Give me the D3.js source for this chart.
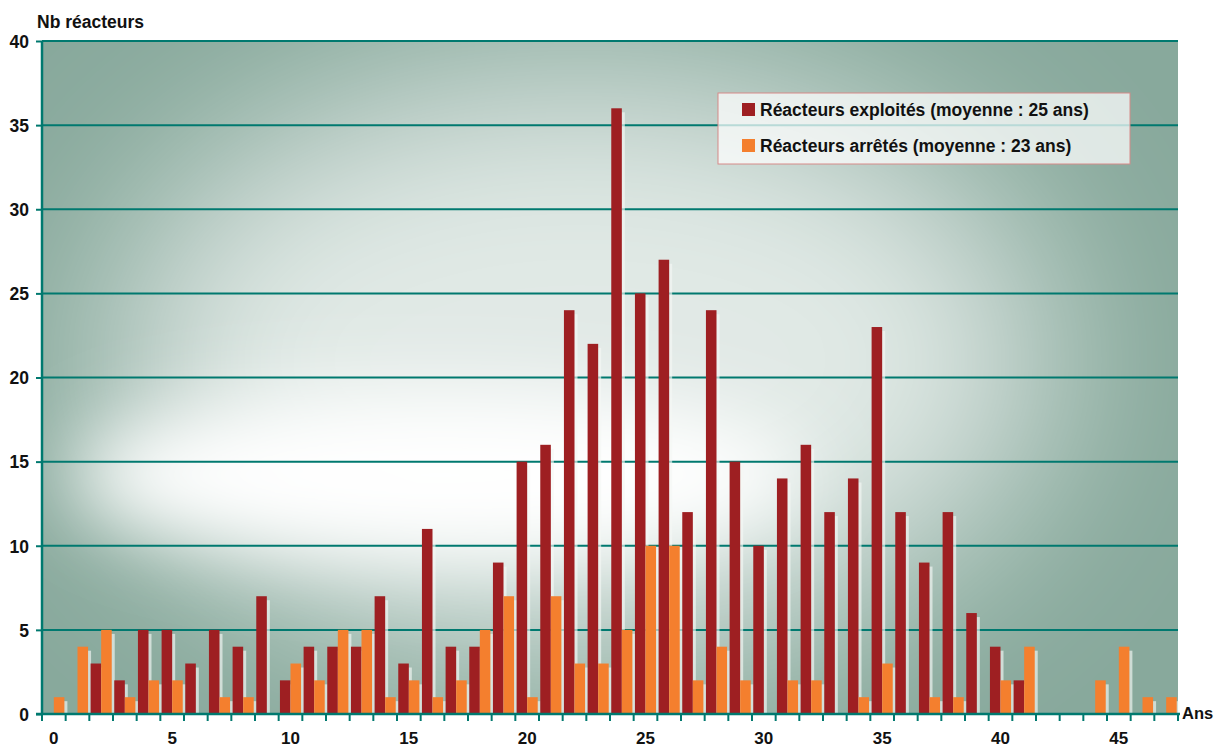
<!DOCTYPE html>
<html lang="fr">
<head>
<meta charset="UTF-8">
<title>Âge des réacteurs</title>
<script src="https://d3js.org/d3.v7.min.js"></script>
<style>
  body { margin: 0; background: #fff; }
  svg text { font-family: "Liberation Sans", Arial, sans-serif; font-weight: bold; fill: #111; }
</style>
</head>
<body>
<script>
// ages (years) and number of reactors per age
const ages = d3.range(0, 48);
const exploites = [0, 0, 3, 2, 5, 5, 3, 5, 4, 7, 2, 4, 4, 4, 7, 3, 11, 4, 4, 9,
                   15, 16, 24, 22, 36, 25, 27, 12, 24, 15, 10, 14, 16, 12, 14, 23, 12, 9, 12, 6,
                   4, 2, 0, 0, 0, 0, 0, 0];
const arretes   = [1, 4, 5, 1, 2, 2, 0, 1, 1, 0, 3, 2, 5, 5, 1, 2, 1, 2, 5, 7,
                   1, 7, 3, 3, 5, 10, 10, 2, 4, 2, 0, 2, 2, 0, 1, 3, 0, 1, 1, 0,
                   2, 4, 0, 0, 2, 4, 1, 1];
const yTicks = [0, 5, 10, 15, 20, 25, 30, 35, 40];
const xLabels = [0, 5, 10, 15, 20, 25, 30, 35, 40, 45];
const seriesNames = ["Réacteurs exploités (moyenne : 25 ans)", "Réacteurs arrêtés (moyenne : 23 ans)"];
const colors = ["#9e1f22", "#f47f2e"];

const W = 1215, H = 747;
const pL = 42, pR = 1178, pT = 41, pB = 714;

const svg = d3.select("body").append("svg")
    .attr("width", W).attr("height", H);

const x = d3.scaleBand().domain(ages).range([pL, pR]).padding(0);
const xs = d3.scaleBand().domain([0, 1]).range([0, x.bandwidth()]).paddingOuter(0.12);
const y = d3.scaleLinear().domain([0, 40]).range([pB, pT]);

// background with soft light glow
const defs = svg.append("defs");
defs.append("clipPath").attr("id", "plot")
  .append("rect").attr("x", pL).attr("y", pT).attr("width", pR - pL).attr("height", pB - pT);
defs.append("filter").attr("id", "blurBig").attr("x", "-50%").attr("y", "-50%").attr("width", "200%").attr("height", "200%")
  .append("feGaussianBlur").attr("stdDeviation", 95);
defs.append("filter").attr("id", "blurSmall").attr("x", "-50%").attr("y", "-50%").attr("width", "200%").attr("height", "200%")
  .append("feGaussianBlur").attr("stdDeviation", 40);

const bg = svg.append("g").attr("clip-path", "url(#plot)");
bg.append("rect").attr("x", pL).attr("y", pT).attr("width", pR - pL).attr("height", pB - pT)
  .attr("fill", "#88a99c");
bg.append("ellipse").attr("cx", 580).attr("cy", 360).attr("rx", 470).attr("ry", 290)
  .attr("fill", "#fff").attr("opacity", 0.75).attr("filter", "url(#blurBig)");
bg.append("ellipse").attr("cx", 440).attr("cy", 475).attr("rx", 370).attr("ry", 85)
  .attr("fill", "#fff").attr("filter", "url(#blurSmall)");

// gridlines
svg.append("g").selectAll("line").data(yTicks.filter(d => d > 0)).join("line")
  .attr("x1", pL).attr("x2", pR)
  .attr("y1", d => y(d)).attr("y2", d => y(d))
  .attr("stroke", "#00796f").attr("stroke-width", 2);

// bars
const data = [];
ages.forEach((a, i) => {
  data.push({ age: a, s: 0, v: exploites[i] });
  data.push({ age: a, s: 1, v: arretes[i] });
});
const bars = data.filter(d => d.v > 0);

svg.append("g").selectAll("rect").data(bars).join("rect")
  .attr("x", d => x(d.age) + xs(d.s) + 3)
  .attr("y", d => y(d.v) + 4)
  .attr("width", xs.bandwidth())
  .attr("height", d => pB - y(d.v) - 4)
  .attr("fill", "#f4f7f5").attr("opacity", 0.65);

svg.append("g").selectAll("rect").data(bars).join("rect")
  .attr("x", d => x(d.age) + xs(d.s))
  .attr("y", d => y(d.v))
  .attr("width", xs.bandwidth())
  .attr("height", d => pB - y(d.v))
  .attr("fill", d => colors[d.s]);

// y axis
const yAxis = svg.append("g").attr("transform", `translate(${pL},0)`)
  .call(d3.axisLeft(y).tickValues(yTicks).tickSize(6).tickPadding(7));
yAxis.select(".domain").attr("stroke", "#00796f").attr("stroke-width", 2.5).attr("d", `M0,${pT}V${pB}`);
yAxis.selectAll(".tick line").attr("stroke", "#00796f").attr("stroke-width", 2);
yAxis.selectAll(".tick text").style("font-size", "17.5px").attr("dy", "0.36em");

// x axis: ticks at category boundaries, labels every 5 years
const xAxis = svg.append("g").attr("transform", `translate(0,${pB})`);
xAxis.append("line").attr("x1", pL - 6).attr("x2", pR + 2).attr("y1", 0).attr("y2", 0)
  .attr("stroke", "#00796f").attr("stroke-width", 2.5);
xAxis.selectAll("line.tk").data(ages.concat([48])).join("line").attr("class", "tk")
  .attr("x1", d => d < 48 ? x(d) : pR).attr("x2", d => d < 48 ? x(d) : pR)
  .attr("y1", 0).attr("y2", 7)
  .attr("stroke", "#00796f").attr("stroke-width", 2);
xAxis.selectAll("text").data(xLabels).join("text")
  .attr("x", d => x(d) + x.bandwidth() / 2).attr("y", 30)
  .attr("text-anchor", "middle").style("font-size", "17px")
  .text(d => d);

svg.append("text").attr("x", 37).attr("y", 28).style("font-size", "17.5px").text("Nb réacteurs");
svg.append("text").attr("x", 1182).attr("y", 719).style("font-size", "16.5px").text("Ans");

// legend
const lg = svg.append("g").attr("transform", "translate(718,93)");
lg.append("rect").attr("width", 412).attr("height", 71)
  .attr("fill", "#fff").attr("fill-opacity", 0.72)
  .attr("stroke", "#d68a88").attr("stroke-width", 1);
seriesNames.forEach((n, i) => {
  lg.append("rect").attr("x", 24).attr("y", 10 + i * 36).attr("width", 13).attr("height", 13).attr("fill", colors[i]);
  lg.append("text").attr("x", 42).attr("y", 23 + i * 36).style("font-size", "17.5px").text(n);
});
</script>
</body>
</html>
